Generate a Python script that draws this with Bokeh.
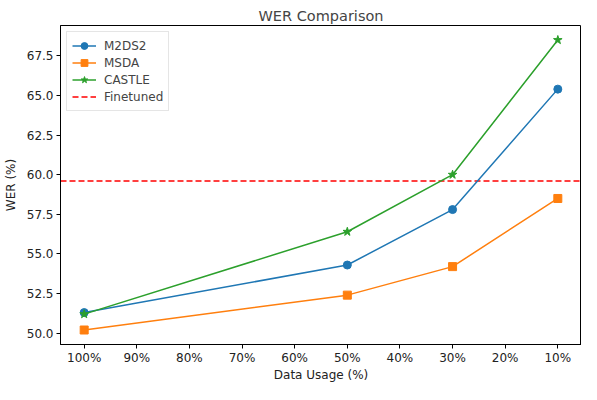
from bokeh.plotting import figure
from bokeh.models import Range1d, FixedTicker, PrintfTickFormatter, Legend, LegendItem
from bokeh.embed import file_html
from bokeh.resources import INLINE

# data
usage = [100, 50, 30, 10]
m2ds2 = [51.3, 54.3, 57.8, 65.4]
msda = [50.2, 52.4, 54.2, 58.5]
castle = [51.2, 56.4, 60.0, 68.5]
finetuned = 59.6
x_ticks = [100, 90, 80, 70, 60, 50, 40, 30, 20, 10]
x_tick_labels = ["100%", "90%", "80%", "70%", "60%", "50%", "40%", "30%", "20%", "10%"]
y_ticks = [50.0, 52.5, 55.0, 57.5, 60.0, 62.5, 65.0, 67.5]

FONT = "DejaVu Sans"

xmin, xmax = min(usage), max(usage)
xm = (xmax - xmin) * 0.05
allv = m2ds2 + msda + castle
ymin, ymax = min(allv), max(allv)
ym = (ymax - ymin) * 0.05
x0, x1 = xmax + xm, xmin - xm

p = figure(width=581, height=384, output_backend="svg", toolbar_location=None,
           x_range=Range1d(x0, x1), y_range=Range1d(ymin - ym, ymax + ym),
           min_border_left=60, min_border_right=0, min_border_bottom=30, min_border_top=25)

p.title.text = "WER Comparison"
p.title.align = "center"
p.title.text_font = FONT
p.title.text_font_size = "14.5px"
p.title.text_font_style = "normal"
p.title.standoff = 4

p.xgrid.visible = False
p.ygrid.visible = False
p.outline_line_color = "black"
p.outline_line_width = 1

for ax in (p.xaxis[0], p.yaxis[0]):
    ax.major_tick_in = 0
    ax.major_tick_out = 4
    ax.minor_tick_line_color = None
    ax.axis_line_color = "black"
    ax.major_label_text_font = FONT
    ax.major_label_text_font_size = "12px"
    ax.major_label_text_color = "#222222"
    ax.axis_label_text_font = FONT
    ax.axis_label_text_font_size = "12px"
    ax.axis_label_text_font_style = "normal"
    ax.axis_label_text_color = "#222222"

p.xaxis.major_label_standoff = 2
p.xaxis.axis_label_standoff = 0
p.yaxis.major_label_standoff = 3
p.yaxis.axis_label_standoff = 6

p.xaxis.ticker = FixedTicker(ticks=x_ticks)
p.xaxis.major_label_overrides = {t: l for t, l in zip(x_ticks, x_tick_labels)}
p.yaxis.ticker = FixedTicker(ticks=y_ticks)
p.yaxis.formatter = PrintfTickFormatter(format="%.1f")
p.xaxis.axis_label = "Data Usage (%)"
p.yaxis.axis_label = "WER (%)"

c1, c2, c3 = "#1f77b4", "#ff7f0e", "#2ca02c"

ft = p.line([x0, x1], [finetuned, finetuned], line_color="#ff0000", line_dash="6 3", line_width=1.5)

l1 = p.line(usage, m2ds2, line_color=c1, line_width=1.5)
s1 = p.scatter(usage, m2ds2, marker="circle", size=8, fill_color=c1, line_color=c1)
l2 = p.line(usage, msda, line_color=c2, line_width=1.5)
s2 = p.scatter(usage, msda, marker="square", size=8, fill_color=c2, line_color=c2)
l3 = p.line(usage, castle, line_color=c3, line_width=1.5)
s3 = p.scatter(usage, castle, marker="star", size=9, fill_color=c3, line_color=c3)

legend = Legend(items=[
    LegendItem(label="M2DS2", renderers=[l1, s1]),
    LegendItem(label="MSDA", renderers=[l2, s2]),
    LegendItem(label="CASTLE", renderers=[l3, s3]),
    LegendItem(label="Finetuned", renderers=[ft]),
], location="top_left")
legend.label_text_font = FONT
legend.label_text_font_size = "12px"
legend.border_line_color = "#cccccc"
legend.border_line_width = 1
legend.background_fill_alpha = 0.8
legend.margin = 6
legend.padding = 5
legend.spacing = 0
legend.glyph_width = 24
legend.glyph_height = 17
legend.label_height = 17
legend.label_standoff = 8
p.add_layout(legend)

open("out.html", "w").write(file_html(p, INLINE))
